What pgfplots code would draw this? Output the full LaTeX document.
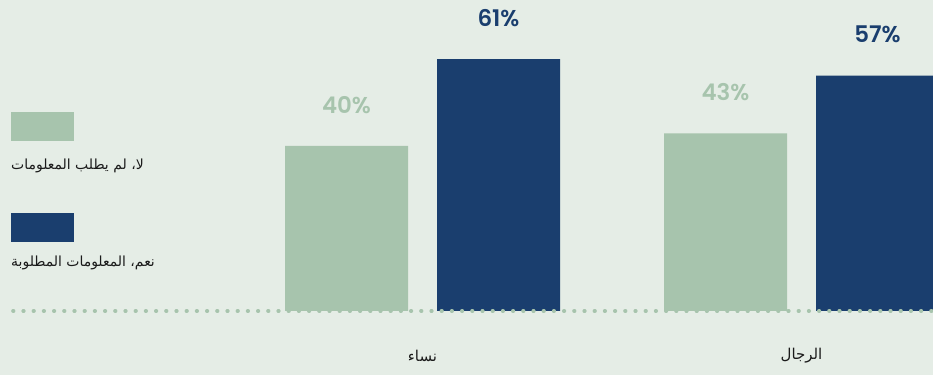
\documentclass[border=0pt]{standalone}
\usepackage{fontspec}
\usepackage{pgfplots}
\pgfplotsset{compat=1.18}
\TeXXeTstate=1
\newfontfamily\arabicfont[Script=Arabic]{DejaVu Sans}
\newfontfamily\numfont{Poppins SemiBold}
\definecolor{bgcol}{HTML}{E5EDE6}
\definecolor{lightbar}{HTML}{A7C4AD}
\definecolor{darkbar}{HTML}{1A3E6E}
\definecolor{txt}{HTML}{1A1A1A}
\begin{document}
\begin{tikzpicture}[x=1bp,y=1bp]
\fill[bgcol] (0,0) rectangle (933,375);
\begin{axis}[
  at={(0,0)}, anchor=south west,
  scale only axis, width=933bp, height=375bp,
  xmin=-1.1148, xmax=1.3470,
  ymin=-15.5, ymax=75.3,
  ybar, bar width=123bp, bar shift auto,
  axis line style={draw=none},
  major tick length=0pt,
  xtick={0,1},
  xticklabels={{\arabicfont\beginR نساء\endR},{\arabicfont\beginR الرجال\endR}},
  xticklabel style={anchor=center, yshift=19bp, font=\fontsize{15}{18}\selectfont, text=txt},
  ytick=\empty,
  /pgf/number format/assume math mode=true,
  nodes near coords={\pgfmathprintnumber{\pgfplotspointmeta}\%},
  every node near coord/.append style={anchor=center, yshift=41bp, font=\numfont\fontsize{23}{26}\selectfont},
]
\addplot[fill=lightbar, draw=none, bar shift=-76bp, every node near coord/.append style={text=lightbar}]
  coordinates {(0,40) (1,43)};
\addplot[fill=darkbar, draw=none, bar shift=76bp, every node near coord/.append style={text=darkbar}]
  coordinates {(0,61) (1,57)};
\addplot[sharp plot, draw=lightbar, line width=3.6bp, line cap=round, dash pattern=on 0.6bp off 9.6bp, nodes near coords={}, forget plot]
  coordinates {(-1.0805,0) (1.36,0)};
\end{axis}
% legend
\fill[lightbar] (11,234) rectangle (74,263);
\node[anchor=west, inner sep=0, text=txt, font=\arabicfont\fontsize{14}{17}\selectfont] at (11,209) {\beginR لا، لم يطلب المعلومات\endR};
\fill[darkbar] (11,133) rectangle (74,162);
\node[anchor=west, inner sep=0, text=txt, font=\arabicfont\fontsize{14}{17}\selectfont] at (11,112) {\beginR نعم، المعلومات المطلوبة\endR};
\pgfresetboundingbox
\path[use as bounding box] (0,0) rectangle (933,375);
\end{tikzpicture}
\end{document}
